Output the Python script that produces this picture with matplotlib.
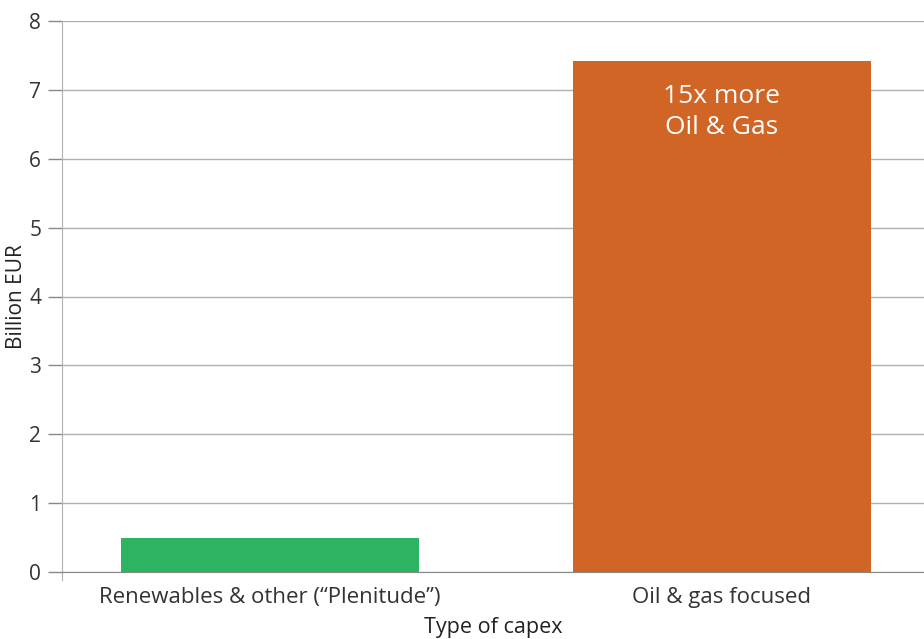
import matplotlib
matplotlib.use("Agg")
import matplotlib.pyplot as plt

categories = ["Renewables & other (\u201cPlenitude\u201d)", "Oil & gas focused"]
values = [0.49, 7.42]
colors = ["#2db462", "#d06526"]
yticks = [0, 1, 2, 3, 4, 5, 6, 7, 8]

plt.rcParams['font.family'] = ['Open Sans', 'DejaVu Sans']

fig = plt.figure(figsize=(9.24, 6.39), dpi=100)
ax = fig.add_axes([62 / 924, 67 / 639, 1 - 62 / 924, 551 / 639])

x = range(len(categories))
ax.bar(x, values, width=0.66, color=colors, zorder=3)

ax.set_xlim(-0.46, 1.447)
ax.set_ylim(0, 8)
ax.set_yticks(yticks)
ax.set_xticks(list(x))
ax.set_xticklabels(categories)
ax.tick_params(axis='x', length=0, pad=11, labelsize=16, colors='#333333')
ax.tick_params(axis='y', length=10, width=1, color='#888888', pad=5, labelsize=15, labelcolor='#333333')

ax.grid(axis='y', color='#b0b0b0', linewidth=1, zorder=0)
for s in ['top', 'right']:
    ax.spines[s].set_visible(False)
ax.spines['left'].set_color('#b0b0b0')
ax.spines['left'].set_bounds(-0.12, 8)
ax.spines['bottom'].set_color('#888888')

ax.set_ylabel("Billion EUR", fontsize=15, color='#222222')
ax.yaxis.set_label_coords(-0.041, 0.5)
ax.set_xlabel("Type of capex", fontsize=15.5, color='#222222', labelpad=6)

ax.text(1, values[1] - 0.33, "15x more\nOil & Gas", color='white', ha='center', va='top',
        fontsize=19, linespacing=1.33, zorder=4)

fig.savefig("out.png", dpi=100)
